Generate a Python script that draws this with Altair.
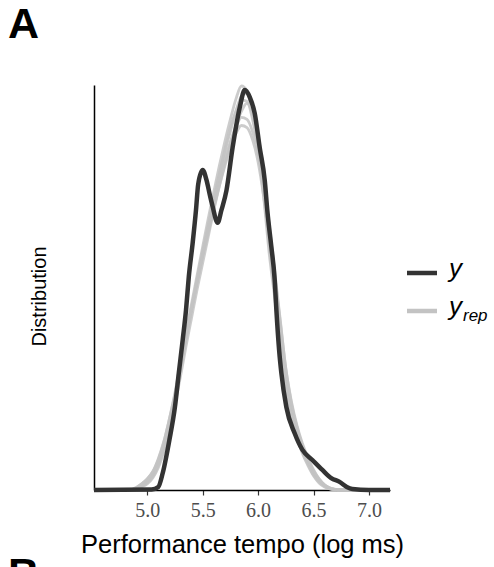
import altair as alt
import pandas as pd

# shared x grid for the replicated densities (log ms)
grid = [4.85, 4.90, 4.95, 5.00, 5.05, 5.10, 5.15, 5.20, 5.25, 5.30,
        5.35, 5.40, 5.45, 5.50, 5.55, 5.60, 5.65, 5.70, 5.75, 5.80,
        5.85, 5.90, 5.95, 6.00, 6.05, 6.10, 6.15, 6.20, 6.25, 6.30,
        6.35, 6.40, 6.45, 6.50, 6.55, 6.60, 6.65, 6.70, 6.80, 6.90]

rep_a = [0, 0.007, 0.02, 0.04, 0.07, 0.13, 0.21, 0.32, 0.45, 0.60,
         0.755, 0.89, 1.03, 1.165, 1.30, 1.43, 1.55, 1.67, 1.77, 1.87,
         1.945, 1.96, 1.875, 1.74, 1.53, 1.245, 1.03, 0.78, 0.54, 0.385,
         0.285, 0.20, 0.14, 0.08, 0.045, 0.02, 0.007, 0.002, 0, 0]
rep_b = [0, 0.01, 0.03, 0.055, 0.09, 0.15, 0.235, 0.35, 0.48, 0.63,
         0.78, 0.92, 1.06, 1.20, 1.34, 1.47, 1.60, 1.72, 1.83, 1.93,
         1.995, 1.97, 1.85, 1.68, 1.45, 1.17, 0.95, 0.71, 0.49, 0.35,
         0.26, 0.18, 0.12, 0.07, 0.035, 0.015, 0.005, 0.001, 0, 0]
rep_c = [0, 0.006, 0.018, 0.035, 0.065, 0.12, 0.20, 0.31, 0.44, 0.59,
         0.74, 0.88, 1.02, 1.15, 1.27, 1.39, 1.50, 1.60, 1.69, 1.76,
         1.80, 1.79, 1.73, 1.62, 1.45, 1.23, 1.02, 0.80, 0.58, 0.42,
         0.31, 0.22, 0.155, 0.095, 0.055, 0.025, 0.01, 0.003, 0, 0]
rep_d = [0, 0.005, 0.015, 0.03, 0.06, 0.11, 0.19, 0.29, 0.42, 0.56,
         0.71, 0.85, 0.99, 1.12, 1.25, 1.38, 1.50, 1.61, 1.71, 1.80,
         1.87, 1.91, 1.86, 1.75, 1.57, 1.31, 1.08, 0.84, 0.60, 0.43,
         0.31, 0.22, 0.15, 0.09, 0.05, 0.022, 0.008, 0.002, 0, 0]
rep_e = [0, 0.012, 0.03, 0.055, 0.09, 0.155, 0.24, 0.35, 0.47, 0.61,
         0.76, 0.90, 1.04, 1.18, 1.31, 1.44, 1.56, 1.68, 1.79, 1.87,
         1.925, 1.92, 1.83, 1.69, 1.49, 1.21, 0.99, 0.75, 0.52, 0.37,
         0.27, 0.19, 0.13, 0.075, 0.04, 0.018, 0.006, 0.002, 0, 0]
rep_f = [0, 0.008, 0.022, 0.045, 0.08, 0.14, 0.22, 0.33, 0.46, 0.61,
         0.76, 0.90, 1.03, 1.16, 1.28, 1.40, 1.52, 1.63, 1.72, 1.79,
         1.84, 1.83, 1.77, 1.66, 1.50, 1.27, 1.06, 0.83, 0.60, 0.44,
         0.32, 0.23, 0.16, 0.10, 0.055, 0.025, 0.01, 0.003, 0, 0]

# observed density y
y_x = [4.52, 5.04, 5.10, 5.14, 5.20, 5.25, 5.285, 5.32, 5.35, 5.375,
       5.41, 5.44, 5.46, 5.50, 5.535, 5.565, 5.59, 5.635, 5.67, 5.715,
       5.77, 5.835, 5.88, 5.925, 5.97, 6.015, 6.06, 6.085, 6.12, 6.15,
       6.165, 6.19, 6.21, 6.255, 6.33, 6.40, 6.49, 6.58, 6.66, 6.735,
       6.80, 6.85, 7.0, 7.19]
y_d = [0, 0.002, 0.015, 0.084, 0.247, 0.41, 0.578, 0.741, 0.889, 1.052,
       1.22, 1.383, 1.51, 1.58, 1.53, 1.457, 1.40, 1.32, 1.383, 1.48,
       1.69, 1.89, 1.975, 1.94, 1.86, 1.69, 1.53, 1.37, 1.20, 1.037,
       0.889, 0.69, 0.578, 0.41, 0.28, 0.198, 0.148, 0.099, 0.059, 0.04,
       0.015, 0.005, 0, 0]

x_ticks = [5.0, 5.5, 6.0, 6.5, 7.0]

reps = {"a": rep_a, "b": rep_b, "c": rep_c, "d": rep_d, "e": rep_e, "f": rep_f}
rows = []
for k, vals in reps.items():
    for xv, dv in zip(grid, vals):
        rows.append({"draw": k, "x": xv, "d": dv})
rep_df = pd.DataFrame(rows)
y_df = pd.DataFrame({"x": y_x, "d": y_d})

xs = alt.Scale(domain=[4.52, 7.19], nice=False, zero=False)
ys = alt.Scale(domain=[0, 2.0], nice=False, zero=True)

xaxis = alt.Axis(values=x_ticks, format=".1f", title="Performance tempo (log ms)",
                 grid=False, domainColor="black", domainWidth=1.5,
                 tickColor="#333333", tickSize=5, tickWidth=1.2,
                 labelFont="Liberation Serif", labelFontSize=20, labelColor="#4d4d4d",
                 labelPadding=5,
                 titleFont="Liberation Sans", titleFontSize=25.5, titleFontWeight="normal",
                 titleColor="black", titleY=62, titleBaseline="alphabetic")
yaxis = alt.Axis(labels=False, ticks=False, grid=False, title="Distribution",
                 domainColor="black", domainWidth=1.5,
                 titleFont="Liberation Sans", titleFontSize=20, titleFontWeight="normal",
                 titleColor="black", titleX=-49, titleY=211, titleBaseline="alphabetic")

gray = alt.Chart(rep_df).mark_line(color="#c3c3c3", strokeWidth=2.8,
                                   interpolate="monotone", opacity=0.85).encode(
    x=alt.X("x:Q", scale=xs, axis=xaxis),
    y=alt.Y("d:Q", scale=ys, axis=yaxis),
    detail="draw:N",
)
black = alt.Chart(y_df).mark_line(color="#333333", strokeWidth=4.5,
                                  interpolate="monotone").encode(
    x=alt.X("x:Q", scale=xs),
    y=alt.Y("d:Q", scale=ys),
)

dummy = pd.DataFrame({"k": [0]})
leg_y_line = alt.Chart(dummy).mark_rule(color="#333333", strokeWidth=4.5).encode(
    x=alt.value(313), x2=alt.value(343), y=alt.value(188))
leg_rep_line = alt.Chart(dummy).mark_rule(color="#c3c3c3", strokeWidth=4.5).encode(
    x=alt.value(313), x2=alt.value(343), y=alt.value(226))
leg_y_text = alt.Chart(dummy).mark_text(text="y", font="Liberation Sans", fontStyle="italic",
                                        fontSize=26, align="left", baseline="alphabetic",
                                        color="black").encode(
    x=alt.value(355), y=alt.value(192))
leg_rep_text = alt.Chart(dummy).mark_text(text="y", font="Liberation Sans", fontStyle="italic",
                                          fontSize=26, align="left", baseline="alphabetic",
                                          color="black").encode(
    x=alt.value(355), y=alt.value(230))
leg_rep_sub = alt.Chart(dummy).mark_text(text="rep", font="Liberation Sans", fontStyle="italic",
                                         fontSize=17, align="left", baseline="alphabetic",
                                         color="black").encode(
    x=alt.value(369), y=alt.value(236))
label_a = alt.Chart(dummy).mark_text(text="A", font="Liberation Sans", fontWeight="bold",
                                     fontSize=43, align="left", baseline="alphabetic",
                                     color="black").encode(
    x=alt.value(-86), y=alt.value(-47))
label_b = alt.Chart(dummy).mark_text(text="B", font="Liberation Sans", fontWeight="bold",
                                     fontSize=43, align="left", baseline="alphabetic",
                                     color="black").encode(
    x=alt.value(-86), y=alt.value(503))

chart = alt.layer(gray, black, leg_y_line, leg_rep_line, leg_y_text, leg_rep_text,
                  leg_rep_sub, label_a, label_b).properties(
    width=296, height=405,
    padding={"left": 94, "top": 85, "right": 104, "bottom": 77},
    autosize=alt.AutoSizeParams(type="none"),
    background="white",
).configure_view(stroke=None)

chart.save("out.html", embed_options={"renderer": "svg", "actions": False})
